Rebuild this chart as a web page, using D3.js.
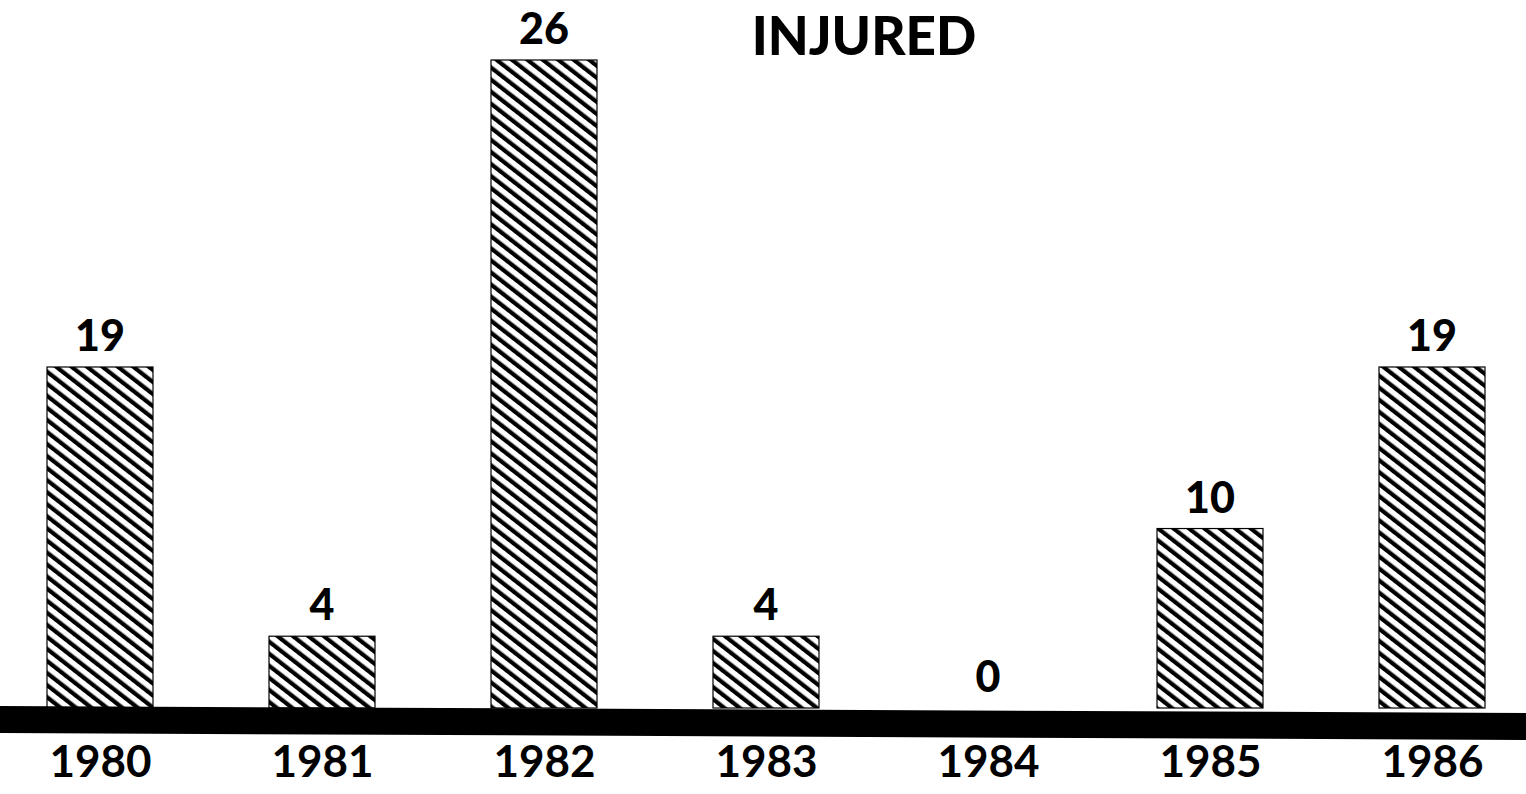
<!DOCTYPE html>
<html>
<head>
<meta charset="utf-8">
<script src="https://cdn.jsdelivr.net/npm/d3@7"></script>
<style>
  body { margin: 0; background: #fff; }
  svg { display: block; }
</style>
</head>
<body>
<div id="chart"></div>
<script>
// data
const years = ["1980", "1981", "1982", "1983", "1984", "1985", "1986"];
const injured = [19, 4, 26, 4, 0, 10, 19];
const title = "INJURED";

const width = 1526;
const height = 794;
const baseY = 708;

const svg = d3.select("#chart")
  .append("svg")
  .attr("width", width)
  .attr("height", height);

// hatch pattern, lines going down to the right (a bit flatter than 45deg)
const defs = svg.append("defs");
defs.append("pattern")
  .attr("id", "hatch")
  .attr("patternUnits", "userSpaceOnUse")
  .attr("width", 9.5)
  .attr("height", 9.5)
  .attr("patternTransform", "rotate(-52)")
  .append("rect")
    .attr("x", 0).attr("y", 0)
    .attr("width", 4.2).attr("height", 9.5)
    .attr("fill", "#000");

// x positions of bar centers
const x = d3.scalePoint()
  .domain(years)
  .range([100, 1432]);

// the printed chart is not drawn to scale, so the scale bends a little
const y = d3.scaleLinear()
  .domain([0, 19, 26])
  .range([baseY, 367, 60]);

const barW = 106;

svg.selectAll("rect.bar")
  .data(injured)
  .enter()
  .append("rect")
    .attr("class", "bar")
    .attr("x", (d, i) => x(years[i]) - barW / 2)
    .attr("y", d => y(d))
    .attr("width", barW)
    .attr("height", d => baseY - y(d))
    .attr("fill", "url(#hatch)")
    .attr("stroke", "#000")
    .attr("stroke-width", 1.2);

// value labels
svg.selectAll("text.val")
  .data(injured)
  .enter()
  .append("text")
    .attr("class", "val")
    .attr("x", (d, i) => x(years[i]))
    .attr("y", d => y(d) - 16)
    .attr("text-anchor", "middle")
    .attr("font-family", "Lato, 'DejaVu Sans', sans-serif")
    .attr("font-weight", 900)
    .attr("font-size", 43)
    .text(d => d);

// thick slightly tilted baseline
svg.append("path")
  .attr("d", `M0,${baseY - 2} L${width},${baseY + 5} L${width},${baseY + 32} L0,${baseY + 25} Z`)
  .attr("fill", "#000");

// year labels
const axis = svg.append("g")
  .attr("transform", `translate(0, ${baseY + 38})`)
  .call(d3.axisBottom(x).tickSize(0).tickPadding(0));
axis.select(".domain").remove();
axis.selectAll("text")
  .attr("dy", "0.71em")
  .attr("font-family", "Lato, 'DejaVu Sans', sans-serif")
  .attr("font-weight", 700)
  .attr("font-size", 44)
  .attr("fill", "#000");

svg.append("text")
  .attr("x", 864)
  .attr("y", 55)
  .attr("text-anchor", "middle")
  .attr("font-family", "Lato, 'DejaVu Sans', sans-serif")
  .attr("font-weight", 900)
  .attr("font-size", 53)
  .text(title);
</script>
</body>
</html>
